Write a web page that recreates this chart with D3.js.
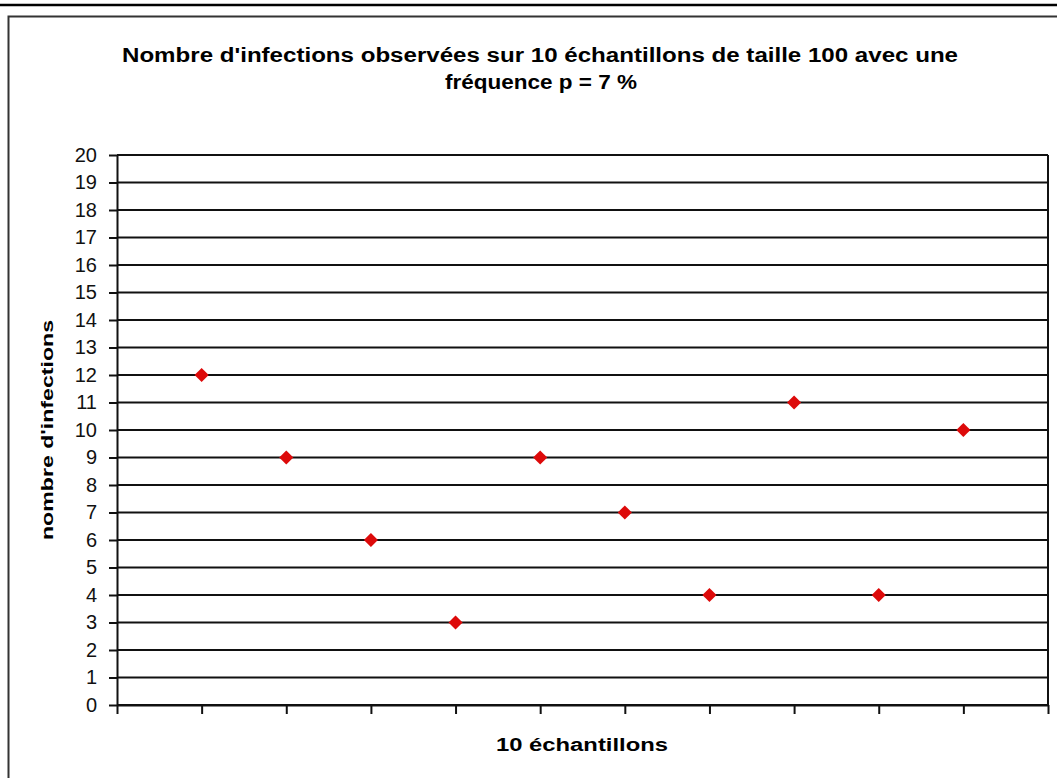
<!DOCTYPE html>
<html>
<head>
<meta charset="utf-8">
<script src="https://cdn.jsdelivr.net/npm/d3@7"></script>
<style>
  body { margin: 0; background: #fff; }
  text { font-family: "Liberation Sans", Arial, sans-serif; }
</style>
</head>
<body>
<div id="chart"></div>
<script>
// data
const samples = [1, 2, 3, 4, 5, 6, 7, 8, 9, 10];
const infections = [12, 9, 6, 3, 9, 7, 4, 11, 4, 10];
const yTicks = d3.range(0, 21);
const titleLines = ["Nombre d'infections observées sur 10 échantillons de taille 100 avec une", "fréquence p = 7 %"];
const xTitle = "10 échantillons";
const yTitle = "nombre d'infections";

const W = 1057, H = 778;
const plotLeft = 117, plotRight = 1048, plotTop = 155, plotBottom = 705;

const svg = d3.select('#chart').append('svg')
    .attr('width', W)
    .attr('height', H);

// frame
svg.append('line')
    .attr('x1', 0).attr('x2', W).attr('y1', 5).attr('y2', 5)
    .attr('stroke', '#000').attr('stroke-width', 2.5);
svg.append('path')
    .attr('d', `M8.5,${H} V16.5 H${W}`)
    .attr('fill', 'none').attr('stroke', '#333').attr('stroke-width', 2);

let x = d3.scaleLinear().domain([0, 11]).range([plotLeft, plotRight]);
let y = d3.scaleLinear().domain([0, 20]).range([plotBottom, plotTop]);

// gridlines
svg.append('g').selectAll('line')
    .data(yTicks)
    .join('line')
    .attr('x1', plotLeft).attr('x2', plotRight)
    .attr('y1', d => y(d)).attr('y2', d => y(d))
    .attr('stroke', '#111').attr('stroke-width', 2);

// right border of plot
svg.append('line')
    .attr('x1', plotRight).attr('x2', plotRight).attr('y1', plotTop).attr('y2', plotBottom)
    .attr('stroke', '#111').attr('stroke-width', 2);

let yAxis = svg.append('g')
    .attr('transform', `translate(${plotLeft},0)`)
    .call(d3.axisLeft(y).tickValues(yTicks).tickSize(8).tickSizeOuter(0).tickPadding(12));
yAxis.selectAll('text').style('font-size', '20px').attr('fill', '#111');

let xAxis = svg.append('g')
    .attr('transform', `translate(0,${plotBottom})`)
    .call(d3.axisBottom(x).tickValues(d3.range(0, 12)).tickSize(9).tickSizeOuter(0).tickFormat(''));

svg.selectAll('.domain, .tick line').attr('stroke', '#111').attr('stroke-width', 2);

// points
svg.append('g').selectAll('path')
    .data(samples)
    .join('path')
    .attr('d', d3.symbol(d3.symbolSquare, 100))
    .attr('transform', (d, i) => `translate(${x(d)},${y(infections[i])}) rotate(45)`)
    .attr('fill', '#dd0a0a');

// titles
svg.append('text')
    .attr('x', 540).attr('y', 62)
    .attr('text-anchor', 'middle')
    .attr('font-weight', 'bold')
    .attr('textLength', 836).attr('lengthAdjust', 'spacingAndGlyphs')
    .style('font-size', '20px')
    .text(titleLines[0]);
svg.append('text')
    .attr('x', 541).attr('y', 89)
    .attr('text-anchor', 'middle')
    .attr('font-weight', 'bold')
    .attr('textLength', 192).attr('lengthAdjust', 'spacingAndGlyphs')
    .style('font-size', '20px')
    .text(titleLines[1]);

svg.append('text')
    .attr('x', 582).attr('y', 751)
    .attr('text-anchor', 'middle')
    .attr('font-weight', 'bold')
    .attr('textLength', 172).attr('lengthAdjust', 'spacingAndGlyphs')
    .style('font-size', '18px')
    .text(xTitle);

svg.append('text')
    .attr('transform', `translate(53,430) rotate(-90)`)
    .attr('text-anchor', 'middle')
    .attr('font-weight', 'bold')
    .attr('textLength', 220).attr('lengthAdjust', 'spacingAndGlyphs')
    .style('font-size', '17px')
    .text(yTitle);
</script>
</body>
</html>
